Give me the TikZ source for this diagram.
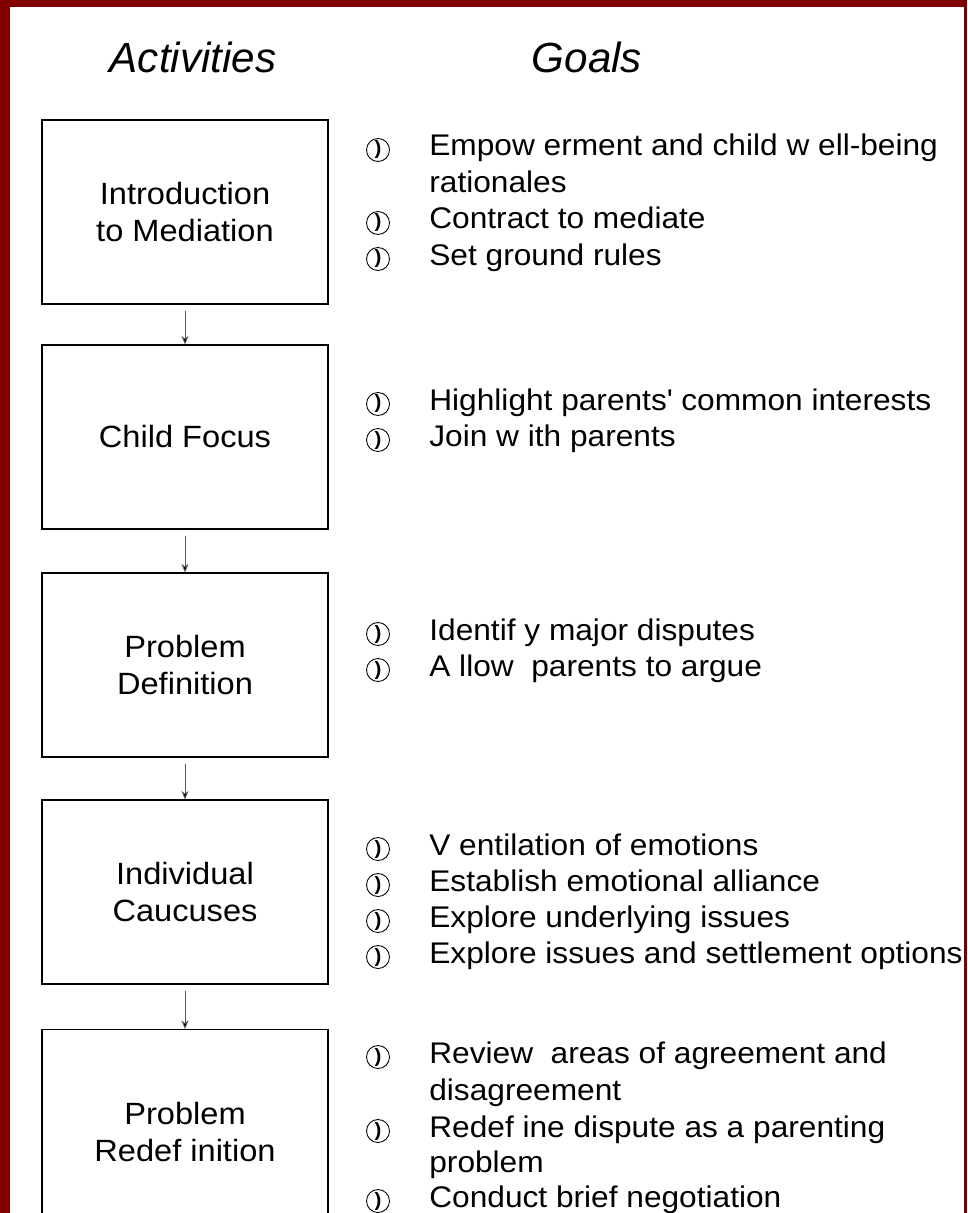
\documentclass[tikz,border=0pt]{standalone}
\usepackage{fontspec}
\setmainfont[FakeStretch=1.06]{Liberation Sans}
\newfontfamily\headfont{Liberation Sans}
\usetikzlibrary{arrows.meta}
\definecolor{slidered}{RGB}{128,0,0}

\begin{document}
\begin{tikzpicture}[x=0.02cm,y=-0.02cm,
  stage/.style={draw,line width=0.7pt,minimum width=5.72cm,minimum height=3.68cm,align=center,font=\fontsize{17.5}{21}\selectfont},
  goal/.style={anchor=base west,inner sep=0pt,font=\fontsize{17}{20.5}\selectfont},
  bul/.style={circle,draw,line width=0.5pt,minimum size=0.46cm,inner sep=0pt,font=\bfseries\fontsize{11}{11}\selectfont},
  head/.style={anchor=base,font=\headfont\itshape\fontsize{24}{28}\selectfont}]
\useasboundingbox (0,0) rectangle (967,1213);
\clip (0,0) rectangle (967,1213);
\fill[slidered] (0,0) rectangle (967,1213);
\fill[white] (10,7) rectangle (964,1213);
% column heads
\node[head] (act) at (193,73) {Activities};
\node[head] (gls) at (587,73) {Goals};
% stages
\node[stage] (s1) at (185,212) {Introduction\\to Mediation};
\node[stage] (s2) at (185,437) {Child Focus};
\node[stage] (s3) at (185,665) {Problem\\Definition};
\node[stage] (s4) at (185,892) {Individual\\Caucuses};
\node[stage,minimum height=4.1cm] (s5) at (185,1132) {Problem\\Redef inition};
\path[-{Stealth[length=0.17cm,width=0.14cm]},draw=black!65,shorten <=0.12cm]
(s1) edge (s2)
(s2) edge (s3)
(s3) edge (s4)
(s4) edge (s5)
;
% goals
\node[bul] (b1a) at (378,150) {)};
\node[goal] (g1a) at (429,156) {Empow erment and child w ell-being};
\node[goal] (g1b) at (429,193) {rationales};
\node[bul] (b1c) at (378,223) {)};
\node[goal] (g1c) at (429,229) {Contract to mediate};
\node[bul] (b1d) at (378,259) {)};
\node[goal] (g1d) at (429,265) {Set ground rules};
\node[bul] (b2a) at (378,404) {)};
\node[goal] (g2a) at (429,410) {Highlight parents\textquotesingle{} common interests};
\node[bul] (b2b) at (378,440) {)};
\node[goal] (g2b) at (429,446) {Join w ith parents};
\node[bul] (b3a) at (378,634) {)};
\node[goal] (g3a) at (429,640) {Identif y major disputes};
\node[bul] (b3b) at (378,670) {)};
\node[goal] (g3b) at (429,676) {A llow \ parents to argue};
\node[bul] (b4a) at (378,849) {)};
\node[goal] (g4a) at (429,855) {V entilation of emotions};
\node[bul] (b4b) at (378,885) {)};
\node[goal] (g4b) at (429,891) {Establish emotional alliance};
\node[bul] (b4c) at (378,921) {)};
\node[goal] (g4c) at (429,927) {Explore underlying issues};
\node[bul] (b4d) at (378,957) {)};
\node[goal] (g4d) at (429,963) {Explore issues and settlement options};
\node[bul] (b5a) at (378,1057) {)};
\node[goal] (g5a) at (429,1063) {Review \ areas of agreement and};
\node[goal] (g5b) at (429,1100) {disagreement};
\node[bul] (b5c) at (378,1131) {)};
\node[goal] (g5c) at (429,1137) {Redef ine dispute as a parenting};
\node[goal] (g5d) at (429,1172) {problem};
\node[bul] (b5e) at (378,1201) {)};
\node[goal] (g5e) at (429,1207) {Conduct brief negotiation};
\end{tikzpicture}
\end{document}
